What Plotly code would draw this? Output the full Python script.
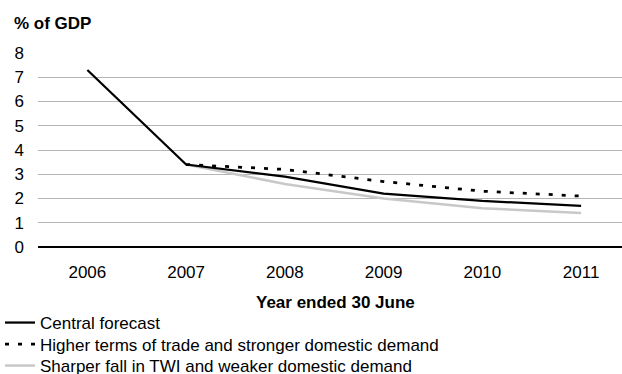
import plotly.graph_objects as go

# Current account deficit projections, % of GDP, year ended 30 June
years = ["2006", "2007", "2008", "2009", "2010", "2011"]
central = [7.3, 3.4, 2.9, 2.2, 1.9, 1.7]
higher_tot = [None, 3.4, 3.2, 2.7, 2.3, 2.1]
sharper_twi = [None, 3.4, 2.6, 2.0, 1.6, 1.4]
y_ticks = [0, 1, 2, 3, 4, 5, 6, 7, 8]

W, H = 622, 374
M_L, M_R, M_T, M_B = 38, 0, 53, 127
PLOT_W = W - M_L - M_R
PLOT_H = H - M_T - M_B
FONT = "Liberation Sans, Arial, sans-serif"
FS = 17

fig = go.Figure()
fig.add_trace(go.Scatter(
    x=years, y=sharper_twi, mode="lines", name="Sharper fall in TWI and weaker domestic demand",
    line=dict(color="#c8c8c8", width=2.5), legend="legend3"))
fig.add_trace(go.Scatter(
    x=years, y=higher_tot, mode="lines", name="Higher terms of trade and stronger domestic demand",
    line=dict(color="#000000", width=2.75, dash="4px,9px"), legend="legend2"))
fig.add_trace(go.Scatter(
    x=years, y=central, mode="lines", name="Central forecast",
    line=dict(color="#000000", width=2.25), legend="legend"))


def legend_row(y_px):
    # one single-entry legend per row so the row pitch can be set exactly
    return dict(
        xref="container", yref="container", x=0.0, y=1 - y_px / H,
        xanchor="left", yanchor="middle",
        font=dict(size=FS), itemwidth=30, bgcolor="rgba(0,0,0,0)",
    )


fig.update_layout(
    width=W, height=H,
    margin=dict(l=M_L, r=M_R, t=M_T, b=M_B, autoexpand=False),
    paper_bgcolor="white", plot_bgcolor="white",
    font=dict(family=FONT, size=FS, color="#000000"),
    showlegend=True,
    legend=legend_row(323),
    legend2=legend_row(344.5),
    legend3=legend_row(366),
    title=dict(
        text="<b>% of GDP</b>", xref="container", yref="container",
        x=14 / W, y=1 - 23 / H, xanchor="left", yanchor="middle",
        font=dict(size=FS, family=FONT),
    ),
)

fig.update_xaxes(
    type="category", range=[-0.5, 5.414],
    showgrid=False, showline=False, zeroline=False,
    ticks="", ticklabelstandoff=13,
    tickfont=dict(size=FS),
)
fig.update_yaxes(
    range=[0, 8], tickvals=y_ticks,
    showgrid=True, gridcolor="#b5b5b5", gridwidth=1,
    zeroline=True, zerolinecolor="#000000", zerolinewidth=1.75,
    showline=False, ticks="", ticklabelstandoff=13,
    tickfont=dict(size=FS),
)

fig.add_annotation(
    text="<b>Year ended 30 June</b>", xref="paper", yref="paper",
    x=(335 - M_L) / PLOT_W, y=(H - M_B - 302) / PLOT_H,
    xanchor="center", yanchor="middle",
    showarrow=False, font=dict(size=FS, family=FONT),
)

fig.write_html("out.html")
